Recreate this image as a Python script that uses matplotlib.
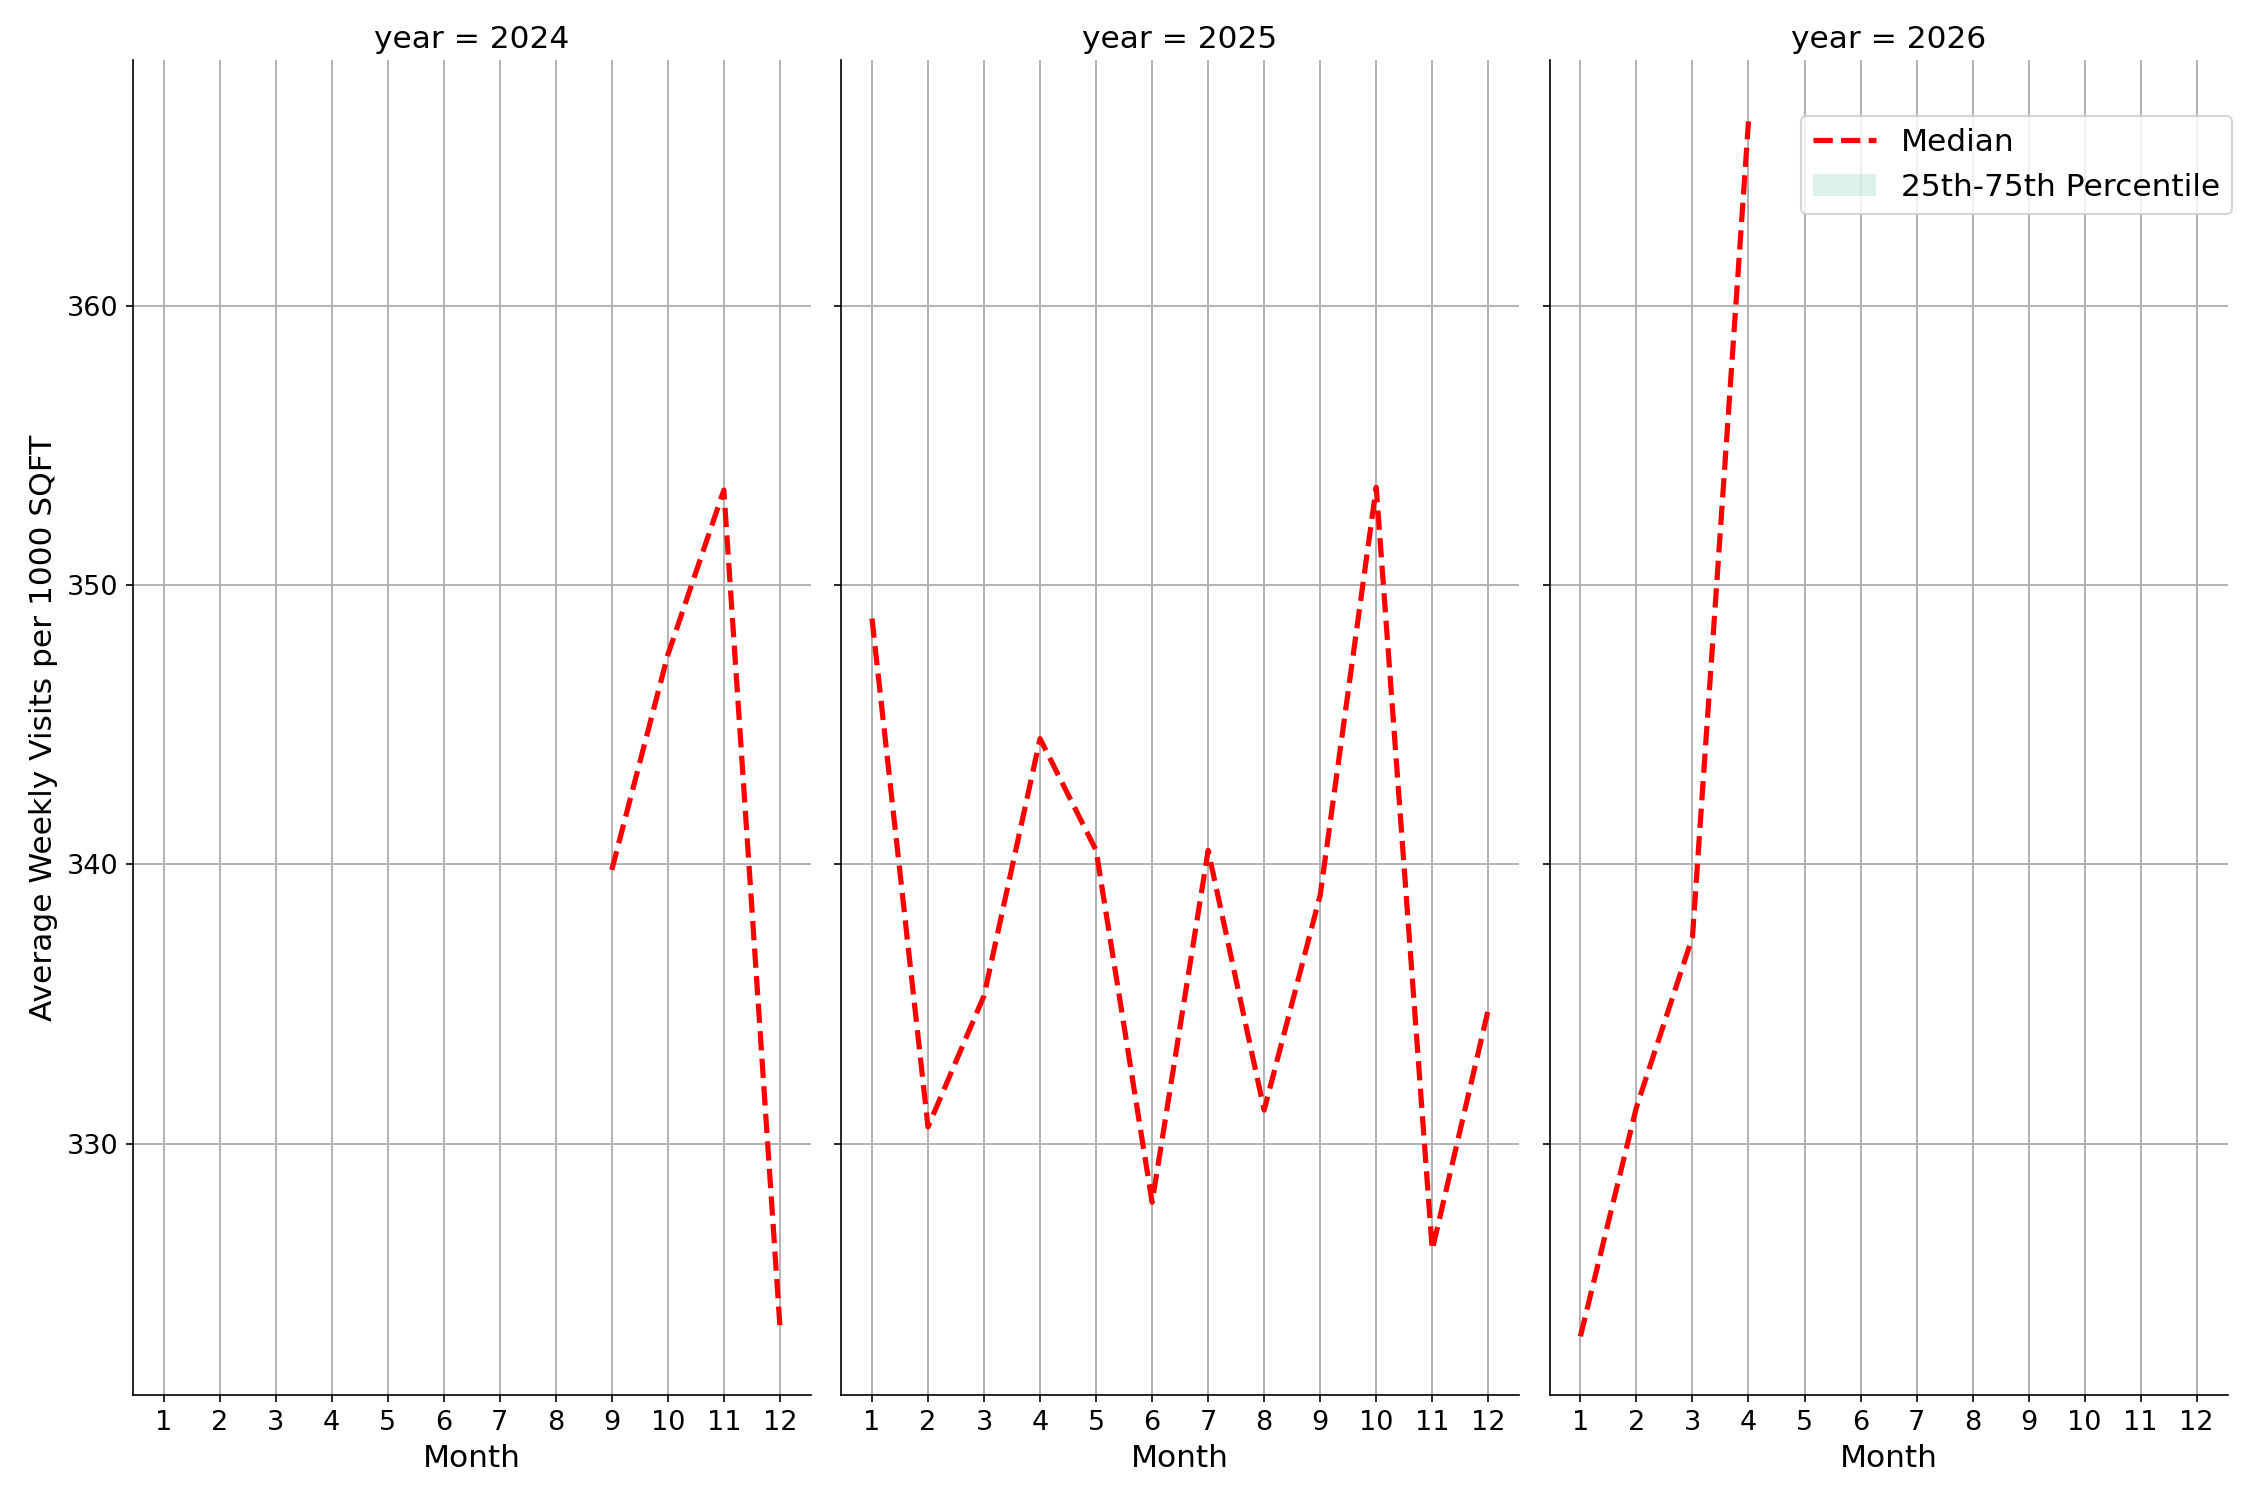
import matplotlib
matplotlib.use("Agg")
import matplotlib.pyplot as plt
from matplotlib.patches import Patch
from matplotlib.lines import Line2D

YEARS = [2024, 2025, 2026]
MONTHS = list(range(1, 13))
MEDIAN = {
    2024: ([9, 10, 11, 12], [339.8, 347.5, 353.4, 323.5]),
    2025: (MONTHS, [348.8, 330.6, 335.3, 344.5, 340.5, 327.9,
                    340.5, 331.2, 338.9, 353.5, 326.2, 334.8]),
    2026: ([1, 2, 3, 4], [323.1, 331.3, 337.4, 366.6]),
}

fig, axes = plt.subplots(1, 3, figsize=(15, 10), dpi=150, sharey=True)
for ax, yr in zip(axes, YEARS):
    x, y = MEDIAN[yr]
    ax.plot(x, y, "--", color="red", lw=2.5)
    ax.set_title(f"year = {yr}", fontsize=15)
    ax.set_xticks(MONTHS)
    ax.set_xlim(0.45, 12.55)
    ax.set_xlabel("Month", fontsize=15)
    ax.grid(True, color="#b0b0b0", lw=0.9)
    ax.tick_params(labelsize=13)
    for s in ("top", "right"):
        ax.spines[s].set_visible(False)
axes[0].set_ylim(321.0, 368.8)
axes[0].set_yticks([330, 340, 350, 360])
axes[0].set_ylabel("Average Weekly Visits per 1000 SQFT", fontsize=15)

handles = [Line2D([], [], color="red", ls="--", lw=2.5),
           Patch(facecolor="#8fd3c3", alpha=0.3)]
axes[2].legend(handles, ["Median", "25th-75th Percentile"], fontsize=15,
               loc="upper right", bbox_to_anchor=(1.03, 0.97))
fig.subplots_adjust(left=0.059, right=0.99, bottom=0.07, top=0.96, wspace=0.045)
fig.savefig("out.png")
